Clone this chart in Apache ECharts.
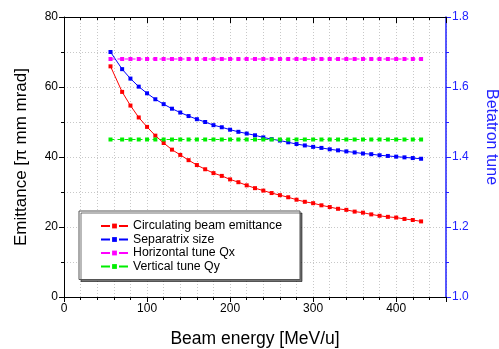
<!DOCTYPE html>
<html>
<head>
<meta charset="utf-8">
<script src="https://cdn.jsdelivr.net/npm/echarts@6/dist/echarts.min.js"></script>
<style>
html,body{margin:0;padding:0;background:#fff;}
#chart{width:499px;height:349px;}
</style>
</head>
<body>
<div id="chart"></div>
<script>
const energy = [56, 70, 80, 90, 100, 110, 120, 130, 140, 150, 160, 170, 180, 190, 200, 210, 220, 230, 240, 250, 260, 270, 280, 290, 300, 310, 320, 330, 340, 350, 360, 370, 380, 390, 400, 410, 420, 430];
const emittance = [65.9, 58.6, 54.7, 51.3, 48.6, 46.1, 44.0, 42.1, 40.6, 39.1, 37.7, 36.5, 35.4, 34.6, 33.6, 32.8, 31.9, 31.1, 30.4, 29.7, 29.1, 28.5, 27.8, 27.2, 26.8, 26.2, 25.7, 25.2, 24.9, 24.4, 24.1, 23.6, 23.2, 22.9, 22.7, 22.3, 22.0, 21.6];
const separatrix = [70.0, 65.1, 62.4, 60.1, 58.2, 56.5, 55.1, 53.8, 52.7, 51.7, 50.8, 50.0, 49.1, 48.5, 47.8, 47.2, 46.7, 46.2, 45.6, 45.1, 44.7, 44.2, 43.7, 43.3, 42.9, 42.6, 42.2, 41.9, 41.6, 41.3, 41.0, 40.8, 40.5, 40.3, 40.1, 39.9, 39.7, 39.5];
const tuneQx = [1.68, 1.68, 1.68, 1.68, 1.68, 1.68, 1.68, 1.68, 1.68, 1.68, 1.68, 1.68, 1.68, 1.68, 1.68, 1.68, 1.68, 1.68, 1.68, 1.68, 1.68, 1.68, 1.68, 1.68, 1.68, 1.68, 1.68, 1.68, 1.68, 1.68, 1.68, 1.68, 1.68, 1.68, 1.68, 1.68, 1.68, 1.68];
const tuneQy = [1.45, 1.45, 1.45, 1.45, 1.45, 1.45, 1.45, 1.45, 1.45, 1.45, 1.45, 1.45, 1.45, 1.45, 1.45, 1.45, 1.45, 1.45, 1.45, 1.45, 1.45, 1.45, 1.45, 1.45, 1.45, 1.45, 1.45, 1.45, 1.45, 1.45, 1.45, 1.45, 1.45, 1.45, 1.45, 1.45, 1.45, 1.45];
const seriesNames = ['Circulating beam emittance', 'Separatrix size', 'Horizontal tune Qx', 'Vertical tune Qy'];
const xTitle = 'Beam energy [MeV/u]';
const yLeftTitle = 'Emittance [\u03c0 mm mrad]';
const yRightTitle = 'Betatron tune';

const FONT = 'Liberation Sans, Arial, sans-serif';
const BLUE = '#2222ff';
const pair = (xs, ys) => xs.map((x, i) => [x, ys[i]]);
const gridDot = {show: true, lineStyle: {color: '#c8c8c8', type: [1, 2], width: 1}};

function xAx(pos, interval, tickLen, inside, labels, line) {
  return {
    type: 'value', position: pos, min: 0, max: 460, interval: interval,
    axisLine: {show: line, onZero: false, lineStyle: {color: '#000', width: 1}},
    axisTick: {show: true, inside: inside, length: tickLen, lineStyle: {color: '#000'}},
    axisLabel: labels ? {show: true, color: '#000', fontFamily: FONT, fontSize: 12, margin: 6,
      formatter: v => (v % 100 === 0 ? String(v) : '')} : {show: false},
    splitLine: labels ? gridDot : {show: false}
  };
}

const chart = echarts.init(document.getElementById('chart'), null, {renderer: 'canvas'});
chart.setOption({
  animation: false,
  backgroundColor: '#fff',
  grid: {left: 64, right: 53, top: 17, bottom: 52, containLabel: false, outerBoundsMode: 'none'},
  xAxis: [
    Object.assign(xAx('bottom', 20, 3, false, true, true), {
      name: xTitle, nameLocation: 'middle', nameGap: 33,
      nameTextStyle: {fontFamily: FONT, fontSize: 17.5, color: '#000'}
    }),
    xAx('bottom', 100, 5, false, false, false),
    xAx('top', 20, 3, true, false, true),
    xAx('top', 100, 6, true, false, false)
  ],
  yAxis: [
    {
      type: 'value', position: 'left', min: 0, max: 80, interval: 20,
      name: yLeftTitle, nameLocation: 'middle', nameGap: 34,
      nameTextStyle: {fontFamily: FONT, fontSize: 17, color: '#000'},
      axisLine: {show: true, onZero: false, lineStyle: {color: '#000'}},
      axisTick: {show: true, length: 5, lineStyle: {color: '#000'}},
      minorTick: {show: true, splitNumber: 2, length: 3, lineStyle: {color: '#000'}},
      axisLabel: {color: '#000', fontFamily: FONT, fontSize: 12, margin: 6},
      splitLine: gridDot,
      minorSplitLine: gridDot
    },
    {
      type: 'value', position: 'right', min: 1.0, max: 1.8, interval: 0.2,
      name: yRightTitle, nameLocation: 'middle', nameGap: 37, nameRotate: -90,
      nameTextStyle: {fontFamily: FONT, fontSize: 16, color: BLUE, padding: [0, 40, 0, 0]},
      axisLine: {show: true, onZero: false, lineStyle: {color: BLUE, width: 1.5}},
      axisTick: {show: true, length: 5, lineStyle: {color: BLUE}},
      minorTick: {show: true, splitNumber: 2, length: 3, lineStyle: {color: BLUE}},
      axisLabel: {color: BLUE, fontFamily: FONT, fontSize: 12, margin: 6, formatter: v => v.toFixed(1)},
      splitLine: {show: false}
    }
  ],
  legend: {
    orient: 'vertical', left: 79, top: 211,
    padding: [9, 18, 7, 21], itemGap: 1.5, itemWidth: 27, itemHeight: 6,
    backgroundColor: '#fff', borderColor: '#555', borderWidth: 1,
    shadowColor: 'rgba(0,0,0,0.55)', shadowOffsetX: 2, shadowOffsetY: 2, shadowBlur: 0,
    lineStyle: {type: [9, 9]},
    textStyle: {fontFamily: FONT, fontSize: 12.3, color: '#000'},
    data: seriesNames
  },
  series: [
    {name: seriesNames[0], type: 'line', xAxisIndex: 0, yAxisIndex: 0, data: pair(energy, emittance),
      symbol: 'rect', symbolSize: 4, color: '#ff0000', lineStyle: {width: 1, color: '#ff0000'}},
    {name: seriesNames[1], type: 'line', xAxisIndex: 0, yAxisIndex: 0, data: pair(energy, separatrix),
      symbol: 'rect', symbolSize: 4, color: '#0000ff', lineStyle: {width: 1, color: '#0000ff'}},
    {name: seriesNames[2], type: 'line', xAxisIndex: 0, yAxisIndex: 1, data: pair(energy, tuneQx),
      symbol: 'rect', symbolSize: 4, color: '#ff00ff', lineStyle: {width: 1, color: '#ff00ff', type: [4, 3]}},
    {name: seriesNames[3], type: 'line', xAxisIndex: 0, yAxisIndex: 1, data: pair(energy, tuneQy),
      symbol: 'rect', symbolSize: 4, color: '#00ee00', lineStyle: {width: 1, color: '#00ee00', type: [4, 3]}}
  ]
});
</script>
</body>
</html>
